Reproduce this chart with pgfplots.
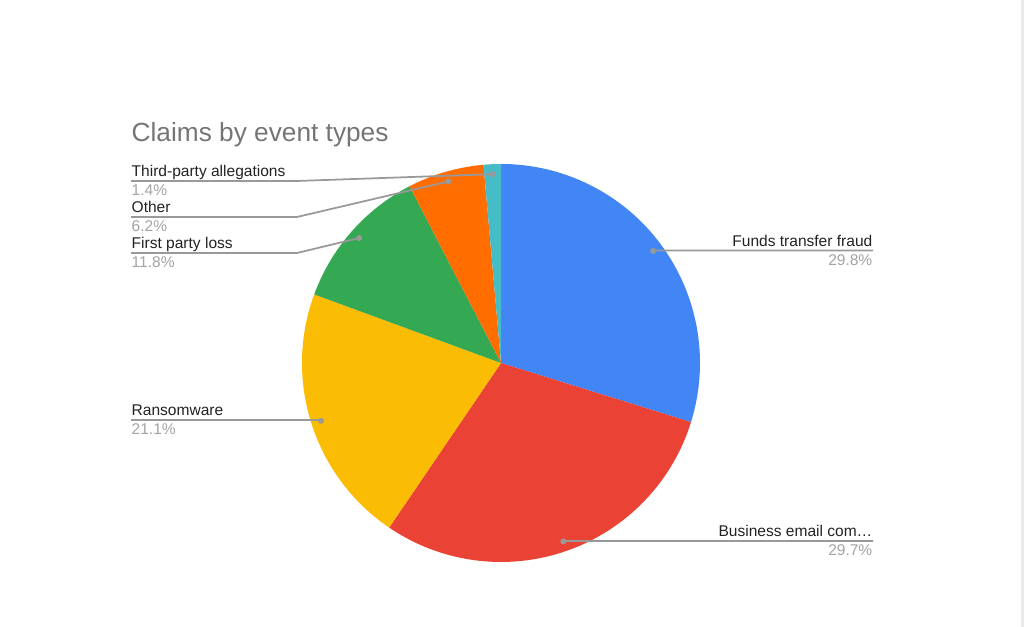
\documentclass[border=0pt]{standalone}
\usepackage{pgfplots}
\usepackage{pgfplotstable}
\pgfplotsset{compat=1.18}
\usepackage{fontspec}
\setmainfont{Liberation Sans}

\definecolor{cBlue}{HTML}{4285F4}
\definecolor{cRed}{HTML}{EA4335}
\definecolor{cYellow}{HTML}{FBBC04}
\definecolor{cGreen}{HTML}{34A853}
\definecolor{cOrange}{HTML}{FF6D01}
\definecolor{cTeal}{HTML}{46BDC6}
\definecolor{titlegray}{HTML}{757575}
\definecolor{labeltext}{HTML}{222222}
\definecolor{pcttext}{HTML}{A3A3A3}
\definecolor{leader}{HTML}{999999}
\definecolor{edge}{HTML}{EAEAEA}

% slices clockwise from 12 o'clock; the last four columns only place the labels
\pgfplotstableread[col sep=comma]{
name,value,col,kinkx,liney,endx,anch
Funds transfer fraud,29.8,cBlue,654,376.5,873,east
Business email com…,29.7,cRed,563,86,873,east
Ransomware,21.1,cYellow,321,207,131,west
First party loss,11.8,cGreen,297,374,131,west
Other,6.2,cOrange,297,410,131,west
Third-party allegations,1.4,cTeal,297,446,131,west
}\pietable

\newcommand\lblfont{\fontsize{4.42}{5}\selectfont}

\begin{document}
\begin{tikzpicture}
  \begin{axis}[
    scale only axis,
    width=10.24cm, height=6.27cm,
    xmin=0, xmax=1024, ymin=0, ymax=627,
    hide axis,
    clip=false,
  ]
    \node[anchor=base west, text=titlegray, inner sep=0pt,
      font=\fontsize{7.47}{9}\selectfont] at (axis cs:131,485) {Claims by event types};

    \pgfplotsextra{
      % pie slices
      \def\cum{0}
      \pgfplotsforeachungrouped \i in {0,...,5}{
        \pgfplotstablegetelem{\i}{value}\of{\pietable}\let\val\pgfplotsretval
        \pgfplotstablegetelem{\i}{col}\of{\pietable}\let\col\pgfplotsretval
        \pgfmathsetmacro{\aone}{90-3.6*\cum}
        \pgfmathsetmacro{\atwo}{90-3.6*(\cum+\val)}
        \fill[fill=\col] (axis cs:501,264) -- ++(\aone:1.99cm)
          arc[start angle=\aone, end angle=\atwo, radius=1.99cm] -- cycle;
        \pgfmathsetmacro{\cum}{\cum+\val}
      }
      % leader lines and labels
      \def\cum{0}
      \pgfplotsforeachungrouped \i in {0,...,5}{
        \pgfplotstablegetelem{\i}{name}\of{\pietable}\let\nm\pgfplotsretval
        \pgfplotstablegetelem{\i}{value}\of{\pietable}\let\val\pgfplotsretval
        \pgfplotstablegetelem{\i}{kinkx}\of{\pietable}\let\kx\pgfplotsretval
        \pgfplotstablegetelem{\i}{liney}\of{\pietable}\let\ly\pgfplotsretval
        \pgfplotstablegetelem{\i}{endx}\of{\pietable}\let\ex\pgfplotsretval
        \pgfplotstablegetelem{\i}{anch}\of{\pietable}\let\an\pgfplotsretval
        \pgfmathsetmacro{\amid}{90-3.6*(\cum+\val/2)}
        \pgfmathsetmacro{\lyt}{\ly+4}
        \pgfmathsetmacro{\lyp}{\ly-15}
        \draw[leader, line width=0.5pt] (axis cs:501,264) ++(\amid:1.89cm)
          -- (axis cs:\kx,\ly) -- (axis cs:\ex,\ly);
        \fill[leader] (axis cs:501,264) ++(\amid:1.89cm) circle[radius=0.03cm];
        \node[anchor=base \an, inner sep=0pt, text=labeltext, font=\lblfont]
          at (axis cs:\ex,\lyt) {\nm};
        \node[anchor=base \an, inner sep=0pt, text=pcttext, font=\lblfont]
          at (axis cs:\ex,\lyp) {\val\%};
        \pgfmathsetmacro{\cum}{\cum+\val}
      }
    }
  \end{axis}
  \fill[edge] (10.21,0) rectangle (10.24,6.27);
  \pgfresetboundingbox
  \path[use as bounding box] (0,0) rectangle (10.24,6.27);
\end{tikzpicture}
\end{document}
